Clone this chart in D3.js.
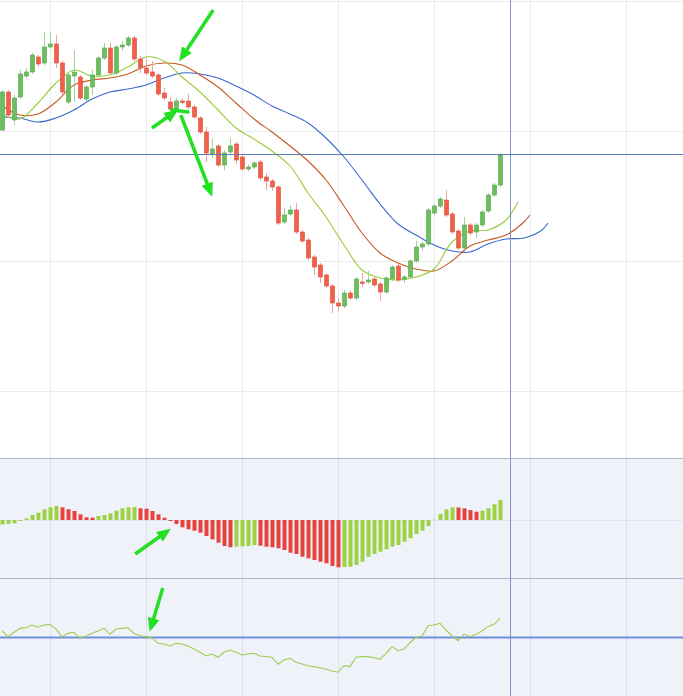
<!DOCTYPE html>
<html>
<head>
<meta charset="utf-8">
<script src="https://cdn.jsdelivr.net/npm/d3@7"></script>
<style>
  html, body { margin: 0; padding: 0; background: #fff; overflow: hidden; }
</style>
</head>
<body>
<svg id="svg" width="683" height="696"></svg>
<script>
// candles, one per bar (index 0..83)
const open = [36.1,39.9,37.1,39.4,41.5,41.9,43.4,42.8,44.4,44.7, 42.8,38.9,41.5,41.4,39.2,40.4,41.6,43.3,44.3,41.8,
  44.4,44.6,45.3,43.2,42.3,41.9,41.6,39.8,38.9,38.2, 39.0,39.0,38.4,37.3,35.9,33.7,34.5,32.6,33.9,34.7,
  33.4,32.2,32.4,32.9,31.4,31.0,30.4,26.9,27.7,28.1, 25.9,25.1,23.4,22.6,21.6,20.5,18.8,18.5,19.8,19.3,
  20.9,20.9,21.2,20.7,19.9,21.2,22.5,21.2,21.4,23.0, 24.4,24.7,27.8,28.5,29.1,27.7,26.0,24.3,26.6,25.9,
  26.6,28.0,29.6,30.6];
const high = [40.1,40.1,39.6,42.1,42.3,43.8,43.6,45.9,45.9,45.6, 43.0,41.8,44.1,41.6,40.6,42.1,43.5,44.8,44.8,44.6,
  45.0,45.5,45.5,43.5,43.2,43.0,41.8,40.3,39.4,39.3, 39.3,39.7,38.6,37.5,36.4,35.3,34.7,34.1,35.3,34.9,
  33.6,32.6,33.0,33.1,31.8,31.2,30.6,28.3,28.6,28.8, 26.1,25.3,23.6,22.8,21.8,20.7,19.3,20.1,20.1,21.4,
  21.8,22.0,21.4,20.9,21.5,22.6,22.7,21.6,23.2,25.0, 24.9,28.3,28.7,29.4,30.1,27.9,26.2,27.4,26.8,26.8,
  28.1,29.8,30.8,33.8];
const low = [36.0,37.4,36.6,39.2,41.3,41.7,42.4,42.6,44.2,42.3, 39.7,38.7,38.9,39.1,39.0,39.6,41.4,43.1,41.6,41.6,
  44.0,44.4,43.0,41.8,41.6,41.3,39.5,39.1,38.0,38.0, 38.7,38.2,37.2,35.7,32.9,33.3,32.4,32.1,33.7,32.7,
  32.0,32.0,32.2,31.1,30.1,30.0,26.6,26.7,27.5,25.7, 24.8,23.1,21.6,20.8,20.3,17.8,18.0,18.3,19.1,19.1,
  20.4,20.7,20.4,19.0,19.7,21.0,20.9,20.8,21.2,22.8, 24.0,24.5,27.6,28.3,27.4,25.7,24.1,24.1,25.6,25.3,
  26.4,27.8,29.4,30.4];
const close = [39.9,37.6,39.3,41.7,41.9,43.6,42.7,44.4,44.7,42.8, 39.9,41.6,41.9,39.3,40.4,41.6,43.3,44.3,41.8,44.4,
  44.6,45.3,43.2,42.3,41.8,41.5,39.7,39.3,38.2,39.0, 38.85,38.4,37.4,35.9,33.8,34.2,32.6,33.8,34.5,33.1,
  32.2,32.4,32.8,31.3,31.0,30.4,26.8,27.6,28.1,25.9, 25.0,23.3,22.4,21.4,20.5,18.8,18.5,19.8,19.3,21.2,
  20.75,21.1,20.6,19.9,21.3,22.4,21.1,21.4,23.0,24.4, 24.7,28.1,28.5,29.2,27.6,25.9,24.3,26.6,25.8,26.6,
  27.9,29.6,30.6,33.6];

// alligator lines, [bar index, value] (shifted forward)
const jaw = [[0,37.4],[3,37.3],[6,36.9],[9,37.3],[12,38.1],[15,39.2],[18,39.9],[21,40.2],[24,40.6],[27,41.3],
  [30,41.8],[33,41.7],[36,41.3],[39,40.5],[42,39.6],[45,38.5],[48,37.7],[51,36.8],[54,35.3],[57,33.4],
  [60,31.1],[63,28.7],[66,26.7],[69,25.6],[72,24.6],[75,24.0],[78,23.9],[81,24.7],[84,25.2],[87,25.3],
  [90,26.1],[91,26.8]];
const teeth = [[0,38.5],[3,37.6],[6,37.7],[9,38.9],[12,40.6],[15,41.1],[18,41.3],[21,41.7],[24,42.5],[27,42.8],
  [30,42.6],[33,41.6],[36,40.4],[39,38.8],[42,37.2],[45,35.9],[48,34.5],[51,33.0],[54,31.1],[57,28.5],
  [60,25.8],[63,23.8],[66,22.8],[69,22.2],[72,22.0],[75,23.0],[78,24.5],[81,25.1],[84,25.6],[87,26.9],
  [88,27.6]];
const lips = [[0,37.7],[3,37.2],[6,38.8],[9,40.8],[12,42.1],[15,41.5],[18,41.6],[21,42.4],[24,43.4],[27,43.0],
  [30,41.4],[33,39.9],[36,38.1],[39,36.3],[42,35.2],[45,34.0],[48,32.5],[51,29.8],[54,27.4],[57,24.6],
  [60,22.1],[63,21.3],[66,21.1],[69,21.4],[72,22.2],[75,24.9],[78,26.0],[81,26.1],[84,27.1],[86,28.9]];

// awesome oscillator histogram
const ao = [-0.045,-0.04,-0.033,-0.01,0.017,0.05,0.073,0.107,0.127,0.14, 0.127,0.107,0.09,0.057,0.027,0.023,0.04,0.05,0.067,0.093,
  0.117,0.127,0.13,0.117,0.113,0.09,0.057,0.023,-0.01,-0.04, -0.073,-0.093,-0.107,-0.127,-0.16,-0.193,-0.227,-0.26,-0.273,-0.267,
  -0.263,-0.26,-0.25,-0.257,-0.267,-0.273,-0.283,-0.30,-0.327,-0.34, -0.367,-0.383,-0.40,-0.417,-0.433,-0.46,-0.473,-0.47,-0.467,-0.45,
  -0.417,-0.367,-0.34,-0.317,-0.293,-0.267,-0.25,-0.217,-0.183,-0.14, -0.107,-0.06,0.003,0.06,0.107,0.127,0.125,0.117,0.10,0.083,
  0.093,0.117,0.157,0.20];

// lower oscillator line
const osc = [55.5,50.7,54.4,57.7,58.2,60.5,58.6,60.5,61.1,57.1, 50.7,53.5,54.4,49.3,51.3,53.5,55.5,57.7,52.7,57.1,
  57.7,58.2,53.5,51.5,50.7,49.8,45.1,44.5,42.9,45.1, 44.5,42.9,40.3,37.6,34.5,36.1,33.4,37.6,39.5,37.6,
  35.3,36.1,36.7,34.5,34.0,33.4,27.5,31.1,32.5,29.2, 27.7,26.3,25.5,24.6,23.5,21.8,20.8,26.3,25.5,33.4,
  33.9,33.9,33.0,31.7,36.7,42.3,38.9,40.3,45.6,50.2, 51.3,59.9,60.5,61.9,56.3,51.3,47.3,52.9,50.7,52.7,
  55.5,59.1,61.1,66.1];
const oscLevel = 50;

// grid ticks and cursor
const timeTicks = [8, 24, 40, 56, 72, 88, 104];
const priceTicks = [10, 23, 36, 49];
const cursorBar = 84.8;
const cursorPrice = 33.7;

// hand-drawn annotation arrows, in data units of their panel
const arrows = [
  { panel: "main", from: [35.2, 48.1], to: [29.9, 43.3] },
  { panel: "main", from: [25.0, 36.3], to: [28.8, 37.9] },
  { panel: "main", from: [29.8, 37.6], to: [34.8, 29.8] },
  { panel: "ao", from: [22.2, -0.34], to: [27.6, -0.11] },
  { panel: "osc", from: [26.8, 91.6], to: [24.8, 58.0] },
];
const strokes = [{ panel: "main", from: [28.3, 38.1], to: [31.0, 37.9] }];

const svg = d3.select("#svg");
const W = 683, H = 696;
const MAIN_B = 458, AO_B = 578;

const x = d3.scaleLinear().domain([0, 100]).range([2, 602]);
const y = d3.scaleLinear().domain([3.3, 49.1]).range([MAIN_B, 0]);
const yAo = d3.scaleLinear().domain([-0.58, 0.62]).range([AO_B, MAIN_B]);
const yOsc = d3.scaleLinear().domain([0, 100]).range([697, AO_B]);
const yOf = { main: y, ao: yAo, osc: yOsc };

// backgrounds
svg.append("rect").attr("width", W).attr("height", MAIN_B).attr("fill", "#fff");
svg.append("rect").attr("y", MAIN_B).attr("width", W).attr("height", H - MAIN_B).attr("fill", "#eff3f9");

// grids via axes
function grid(g, color) {
  g.select(".domain").remove();
  g.selectAll("line").attr("stroke", color).attr("shape-rendering", "crispEdges");
}
svg.append("g").attr("transform", `translate(0,${MAIN_B})`)
  .call(d3.axisBottom(x).tickValues(timeTicks).tickSizeInner(-MAIN_B).tickFormat(""))
  .call(grid, "#ebebeb");
svg.append("g")
  .call(d3.axisLeft(y).tickValues(priceTicks).tickSizeInner(-W).tickFormat(""))
  .call(grid, "#ebebeb");
svg.append("g").attr("transform", `translate(0,${H})`)
  .call(d3.axisBottom(x).tickValues(timeTicks).tickSizeInner(-(H - MAIN_B)).tickFormat(""))
  .call(grid, "#d9e0ea");
svg.append("g")
  .call(d3.axisLeft(yAo).tickValues([0]).tickSizeInner(-W).tickFormat(""))
  .call(grid, "#dfe5ee");

// panel borders
svg.selectAll(".border").data([MAIN_B, AO_B]).join("line")
  .attr("x1", 0).attr("x2", W).attr("y1", d => d + 0.5).attr("y2", d => d + 0.5)
  .attr("stroke", "#aab8cc");

// alligator lines
const line = d3.line().x(d => x(d[0])).y(d => y(d[1])).curve(d3.curveCatmullRom.alpha(0.5));
[[jaw, "#3b67d0"], [teeth, "#c8581f"], [lips, "#98cc38"]].forEach(([data, color]) => {
  svg.append("path").datum(data).attr("d", line)
    .attr("fill", "none").attr("stroke", color).attr("stroke-width", 1.1);
});

// candles
const bars = d3.range(open.length);
const up = i => close[i] >= open[i];
svg.append("g").selectAll("line").data(bars).join("line")
  .attr("x1", i => x(i) + 0.5).attr("x2", i => x(i) + 0.5)
  .attr("y1", i => y(high[i])).attr("y2", i => y(low[i]))
  .attr("stroke", i => (up(i) ? "#9fd495" : "#eca49b")).attr("stroke-width", 1);
svg.append("g").selectAll("rect").data(bars).join("rect")
  .attr("x", i => x(i) - 1.5).attr("width", 4)
  .attr("y", i => y(Math.max(open[i], close[i])))
  .attr("height", i => Math.max(1.2, y(Math.min(open[i], close[i])) - y(Math.max(open[i], close[i]))))
  .attr("fill", i => (up(i) ? "#6cbf5f" : "#f2604b"))
  .attr("stroke", i => (up(i) ? "#52a646" : "#de4c38")).attr("stroke-width", 0.6);

// awesome oscillator
svg.append("g").selectAll("rect").data(bars).join("rect")
  .attr("x", i => x(i) - 1.5).attr("width", 4)
  .attr("y", i => yAo(Math.max(0, ao[i])))
  .attr("height", i => Math.abs(yAo(ao[i]) - yAo(0)))
  .attr("fill", i => (i === 0 || ao[i] >= ao[i - 1] ? "#9dd244" : "#e8423f"));

// lower oscillator
svg.append("line").attr("x1", 0).attr("x2", W)
  .attr("y1", yOsc(oscLevel)).attr("y2", yOsc(oscLevel))
  .attr("stroke", "#6e8ede").attr("stroke-width", 2);
svg.append("path").datum(osc)
  .attr("d", d3.line().x((d, i) => x(i)).y(d => yOsc(d)))
  .attr("fill", "none").attr("stroke", "#9ccd4e").attr("stroke-width", 1.1);

// cursor crosshair
svg.append("line").attr("x1", x(cursorBar)).attr("x2", x(cursorBar)).attr("y1", 0).attr("y2", H)
  .attr("stroke", "#7d98c8").attr("shape-rendering", "crispEdges");
svg.append("line").attr("x1", 0).attr("x2", W).attr("y1", y(cursorPrice)).attr("y2", y(cursorPrice))
  .attr("stroke", "#5a7db4").attr("shape-rendering", "crispEdges");

// arrows
svg.append("defs").append("marker")
  .attr("id", "head").attr("viewBox", "0 0 14 12")
  .attr("markerWidth", 14).attr("markerHeight", 12)
  .attr("markerUnits", "userSpaceOnUse")
  .attr("refX", 10).attr("refY", 6).attr("orient", "auto")
  .append("path").attr("d", "M0,0L14,6L0,12Z").attr("fill", "#22e022");

svg.append("g").selectAll("line").data(arrows).join("line")
  .attr("x1", d => x(d.from[0])).attr("y1", d => yOf[d.panel](d.from[1]))
  .attr("x2", d => x(d.to[0])).attr("y2", d => yOf[d.panel](d.to[1]))
  .attr("stroke", "#22e022").attr("stroke-width", 3.5).attr("marker-end", "url(#head)");
svg.append("g").selectAll("line").data(strokes).join("line")
  .attr("x1", d => x(d.from[0])).attr("y1", d => yOf[d.panel](d.from[1]))
  .attr("x2", d => x(d.to[0])).attr("y2", d => yOf[d.panel](d.to[1]))
  .attr("stroke", "#22e022").attr("stroke-width", 3.5).attr("stroke-linecap", "round");
</script>
</body>
</html>
